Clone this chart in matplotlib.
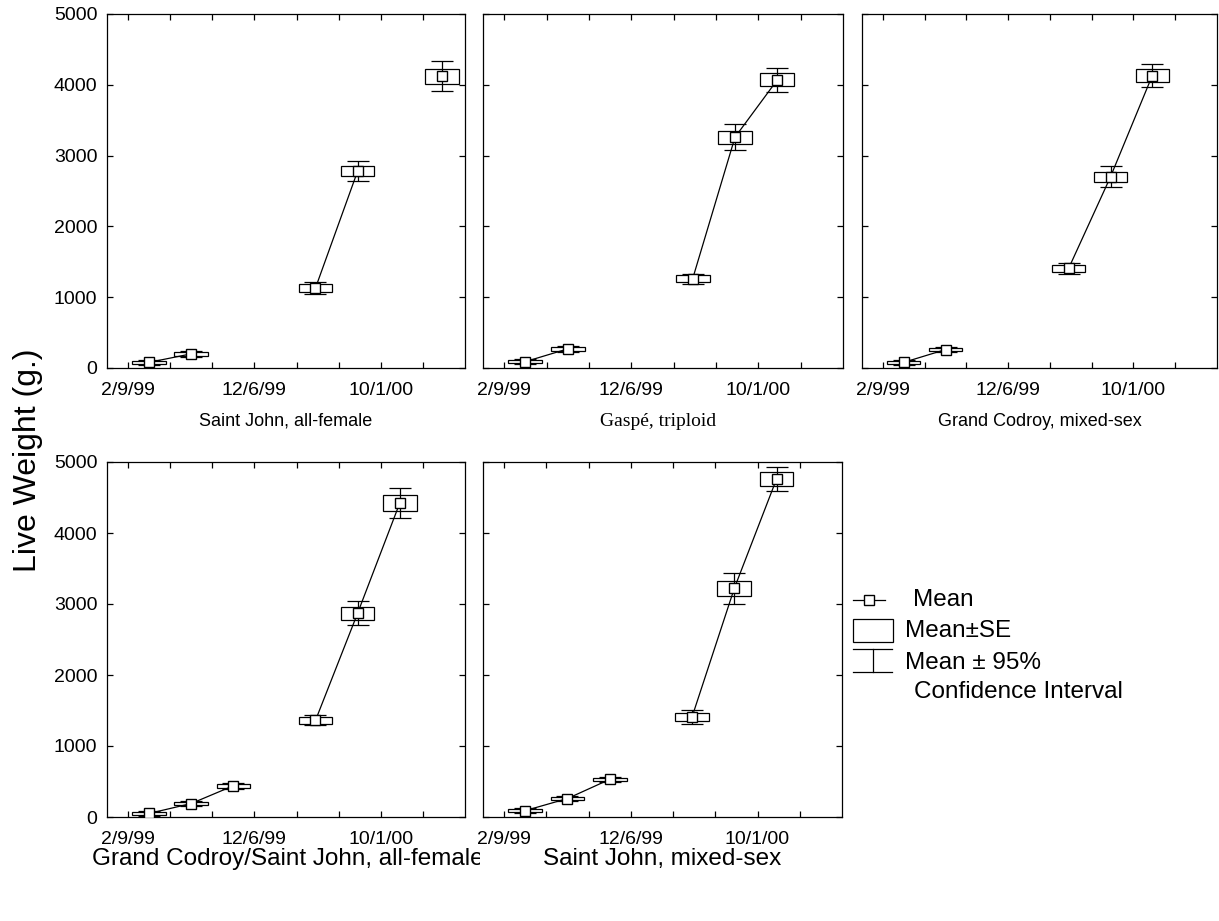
import matplotlib
matplotlib.use("Agg")
import matplotlib.pyplot as plt
from matplotlib.patches import Rectangle
from matplotlib.lines import Line2D

plt.rcParams["font.family"] = ["Liberation Sans", "DejaVu Sans"]

W, H = 1219, 921

# days after 2/9/99
x_ticks = [0, 100, 200, 300, 400, 500, 600, 700]
x_tick_labels = ["2/9/99", "", "", "12/6/99", "", "", "10/1/00", ""]
y_ticks = [0, 1000, 2000, 3000, 4000, 5000]

titles = [
    "Saint John, all-female",
    "Gaspé, triploid",
    "Grand Codroy, mixed-sex",
    "Grand Codroy/Saint John, all-female",
    "Saint John, mixed-sex",
]

days_sj_af = [50, 150, 445, 545, 745]
mean_sj_af = [80, 200, 1130, 2780, 4120]
se_sj_af = [20, 25, 50, 70, 110]
ci_sj_af = [35, 40, 80, 140, 210]
seg_sj_af = [(0, 2), (2, 4), (4, 5)]

days_gaspe = [50, 150, 445, 545, 645]
mean_gaspe = [90, 270, 1260, 3260, 4070]
se_gaspe = [20, 25, 50, 92, 90]
ci_gaspe = [35, 45, 70, 186, 170]
seg_gaspe = [(0, 2), (2, 5)]

days_gc_ms = [50, 150, 445, 545, 645]
mean_gc_ms = [80, 260, 1410, 2700, 4130]
se_gc_ms = [20, 25, 50, 73, 90]
ci_gc_ms = [35, 40, 78, 148, 165]
seg_gc_ms = [(0, 2), (2, 5)]

days_gcsj_af = [50, 150, 250, 445, 545, 645]
mean_gcsj_af = [50, 190, 440, 1360, 2870, 4420]
se_gcsj_af = [20, 25, 25, 52, 89, 117]
ci_gcsj_af = [35, 40, 40, 70, 169, 211]
seg_gcsj_af = [(0, 3), (3, 6)]

days_sj_ms = [50, 150, 250, 445, 545, 645]
mean_sj_ms = [90, 260, 530, 1410, 3220, 4760]
se_sj_ms = [20, 25, 25, 59, 110, 100]
ci_sj_ms = [35, 40, 40, 103, 216, 170]
seg_sj_ms = [(0, 3), (3, 6)]

panels = [
    (days_sj_af, mean_sj_af, se_sj_af, ci_sj_af, seg_sj_af),
    (days_gaspe, mean_gaspe, se_gaspe, ci_gaspe, seg_gaspe),
    (days_gc_ms, mean_gc_ms, se_gc_ms, ci_gc_ms, seg_gc_ms),
    (days_gcsj_af, mean_gcsj_af, se_gcsj_af, ci_gcsj_af, seg_gcsj_af),
    (days_sj_ms, mean_sj_ms, se_sj_ms, ci_sj_ms, seg_sj_ms),
]

# axes boxes in pixels: left, top, right, bottom
boxes = [
    (107, 14, 465, 368),
    (483, 14, 843, 368),
    (862, 14, 1217, 368),
    (107, 462, 465, 817),
    (483, 462, 842, 817),
]


def px(x, y):
    return x / W, 1 - y / H


fig = plt.figure(figsize=(W / 100, H / 100), dpi=100)

for i, (days, mean, se, ci, segs) in enumerate(panels):
    l, t, r, b = boxes[i]
    ax = fig.add_axes([l / W, 1 - b / H, (r - l) / W, (b - t) / H])
    bottoms = [m - s for m, s in zip(mean, se)]
    heights = [2 * s for s in se]
    ax.bar(days, heights, bottom=bottoms, width=80, fill=False,
           edgecolor="k", linewidth=0.9, zorder=2)
    ax.errorbar(days, mean, yerr=ci, fmt="none", ecolor="k",
                elinewidth=0.9, capsize=8, capthick=0.9, zorder=2)
    for a, c in segs:
        ax.plot(days[a:c], mean[a:c], color="k", lw=0.9, zorder=3)
    ax.plot(days, mean, ls="none", marker="s", ms=7, mfc="white",
            mec="k", mew=1.0, zorder=4)

    ax.set_xlim(-50, 800)
    ax.set_ylim(0, 5000)
    ax.set_xticks(x_ticks)
    ax.set_xticklabels(x_tick_labels)
    ax.set_yticks(y_ticks)
    ax.tick_params(direction="in", length=4, width=0.9, top=True, right=True,
                   labelsize=14, colors="k")
    ax.tick_params(axis="x", pad=10)
    ax.tick_params(axis="y", pad=7)
    if i not in (0, 3):
        ax.set_yticklabels([])
    for sp in ax.spines.values():
        sp.set_linewidth(0.9)

# panel titles
fig.text(*px(286, 421), titles[0], ha="center", va="center", fontsize=13)
fig.text(*px(658, 421), titles[1], ha="center", va="center", fontsize=14,
         family=["Liberation Serif", "DejaVu Serif"])
fig.text(*px(1040, 421), titles[2], ha="center", va="center", fontsize=13)
t4 = fig.text(*px(92, 859), titles[3], ha="left", va="center", fontsize=17.5)
t4.set_clip_path(Rectangle((0, 0), 480 / W, 1, transform=fig.transFigure))
fig.text(*px(662, 859), titles[4], ha="center", va="center", fontsize=17.5)

fig.text(*px(28, 460), "Live Weight (g.)", rotation=90, ha="center",
         va="center", fontsize=23)

# legend
tf = fig.transFigure
lw = 0.9
fs_leg = 17.5
fig.add_artist(Line2D([853 / W, 885 / W], [1 - 600 / H] * 2, color="k",
                      lw=lw, transform=tf))
fig.add_artist(Line2D([869 / W], [1 - 600 / H], marker="s", ms=7, mfc="white",
                      mec="k", mew=1.0, transform=tf))
fig.text(*px(913, 600), "Mean", ha="left", va="center", fontsize=fs_leg)
fig.add_artist(Rectangle(px(853, 642), 40 / W, 23 / H, fill=False,
                         edgecolor="k", lw=lw, transform=tf))
fig.text(*px(905, 631), "Mean±SE", ha="left", va="center", fontsize=fs_leg)
fig.add_artist(Line2D([853 / W, 892 / W], [1 - 649 / H] * 2, color="k",
                      lw=lw, transform=tf))
fig.add_artist(Line2D([853 / W, 892 / W], [1 - 672 / H] * 2, color="k",
                      lw=lw, transform=tf))
fig.add_artist(Line2D([873 / W, 873 / W], [1 - 649 / H, 1 - 672 / H],
                      color="k", lw=lw, transform=tf))
fig.text(*px(905, 663), "Mean ± 95%", ha="left", va="center", fontsize=fs_leg)
fig.text(*px(914, 692), "Confidence Interval", ha="left", va="center",
         fontsize=fs_leg)

fig.savefig("out.png", dpi=100)
